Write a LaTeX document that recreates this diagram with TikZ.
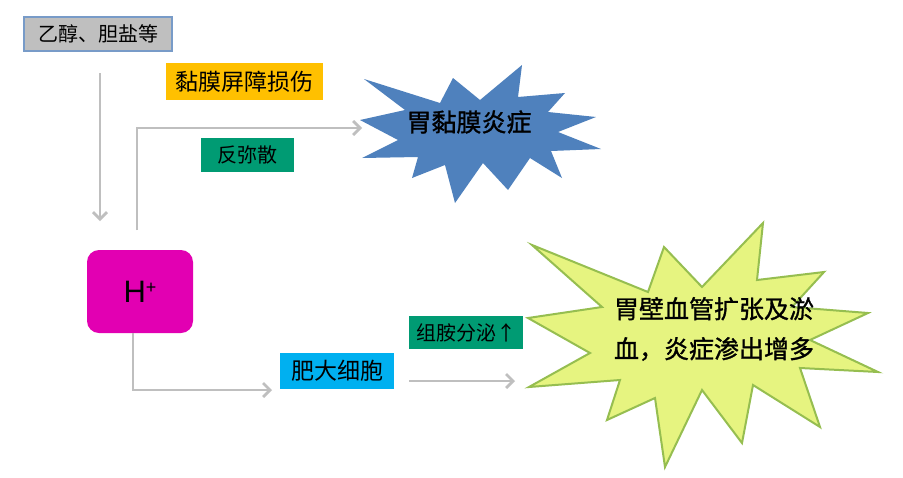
\documentclass[tikz,border=0pt]{standalone}
\usepackage{fontspec}
\setmainfont{Liberation Sans}
\newfontfamily\cjk{Noto Sans CJK SC}
\newfontfamily\cjkheavy[FakeBold=1.2]{Noto Sans CJK SC}
\usetikzlibrary{arrows.meta}
\definecolor{conncol}{RGB}{191,191,191}
\definecolor{grayfill}{RGB}{191,191,191}
\definecolor{grayedge}{RGB}{120,155,200}
\definecolor{goldfill}{RGB}{255,192,0}
\definecolor{greenfill}{RGB}{0,155,115}
\definecolor{bluefill}{RGB}{0,176,240}
\definecolor{magfill}{RGB}{226,0,178}
\definecolor{starblue}{RGB}{79,129,189}
\definecolor{staryellow}{RGB}{230,244,128}
\definecolor{stargreen}{RGB}{150,190,80}
\begin{document}
\begin{tikzpicture}[x=1pt,y=-1pt,
  labelbox/.style={inner sep=0pt, anchor=center, text=black},
  cjk20/.style={font=\cjk\fontsize{20}{24}\selectfont},
  cjk23/.style={font=\cjk\fontsize{23}{27}\selectfont},
  startext/.style={inner sep=0pt, anchor=center, text=black, font=\cjkheavy\fontsize{25}{40}\selectfont, align=center},
  connector/.style={draw=conncol, line width=2.7pt, -{Straight Barb[length=7pt,width=14pt]}}
]
\useasboundingbox (0,0) rectangle (903,477);
\fill[white] (0,0) rectangle (903,477);

% stars
\fill[starblue] (364,79) -- (440,103) -- (453,78) -- (480,100) -- (522,65) -- (518,97)
  -- (565,93) -- (548,112) -- (596,117) -- (558,132) -- (601,149) -- (551,151)
  -- (562,178) -- (530,158) -- (508,190) -- (483,163) -- (455,203) -- (445,165)
  -- (412,178) -- (418,157) -- (362,158) -- (398,140) -- (360,120) -- (405,110) -- cycle;
\filldraw[fill=staryellow, draw=stargreen, line width=2pt, line join=miter]
  (532,245) -- (648,292) -- (664,247) -- (702,287) -- (763,223) -- (757,280)
  -- (824,272) -- (792,307) -- (868,313) -- (810,340) -- (878,372) -- (800,368)
  -- (820,427) -- (753,385) -- (742,443) -- (702,390) -- (665,467) -- (655,398)
  -- (607,420) -- (620,380) -- (529,387) -- (590,353) -- (528,318) -- (602,307) -- cycle;
\node[startext] (gastritis) at (469,122) {胃黏膜炎症};
\node[startext] (vessel) at (714,329) {胃壁血管扩张及淤\\血，炎症渗出增多};

% boxes
\node[labelbox, cjk20, fill=grayfill, draw=grayedge, line width=1.2pt,
  minimum width=148pt, minimum height=34pt] (ethanol) at (98,34) {乙醇、胆盐等};
\node[labelbox, cjk23, fill=goldfill, minimum width=157pt, minimum height=37pt] (damage) at (244.5,81.5) {黏膜屏障损伤};
\node[labelbox, cjk20, fill=greenfill, minimum width=93pt, minimum height=34pt] (backdiff) at (247.5,155) {反弥散};
\node[labelbox, fill=magfill, rounded corners=12pt, minimum width=106pt, minimum height=83pt,
  font=\fontsize{31}{33}\selectfont] (hplus) at (140,291.5) {H\raisebox{0.5ex}{\fontsize{18}{18}\selectfont +}};
\node[labelbox, cjk23, fill=bluefill, minimum width=114pt, minimum height=36pt] (mast) at (337,371) {肥大细胞};
\node[labelbox, cjk20, fill=greenfill, minimum width=114pt, minimum height=33pt] (histamine) at (466,332.5) {组胺分泌↑};

% connector ends
\coordinate (downstart) at (100,73);
\coordinate (downend) at (100,221);
\coordinate (upstart) at (137,230);
\coordinate (upend) at (362,128);
\coordinate (mastend) at (272,390);
\coordinate (histstart) at (409,381);
\coordinate (histend) at (515,381);

\draw[connector] (downstart) -- (downend);
\draw[connector] (upstart) |- (upend);
\draw[connector] (hplus.south -| 133,0) |- (mastend);
\draw[connector] (histstart) -- (histend);
\end{tikzpicture}
\end{document}
